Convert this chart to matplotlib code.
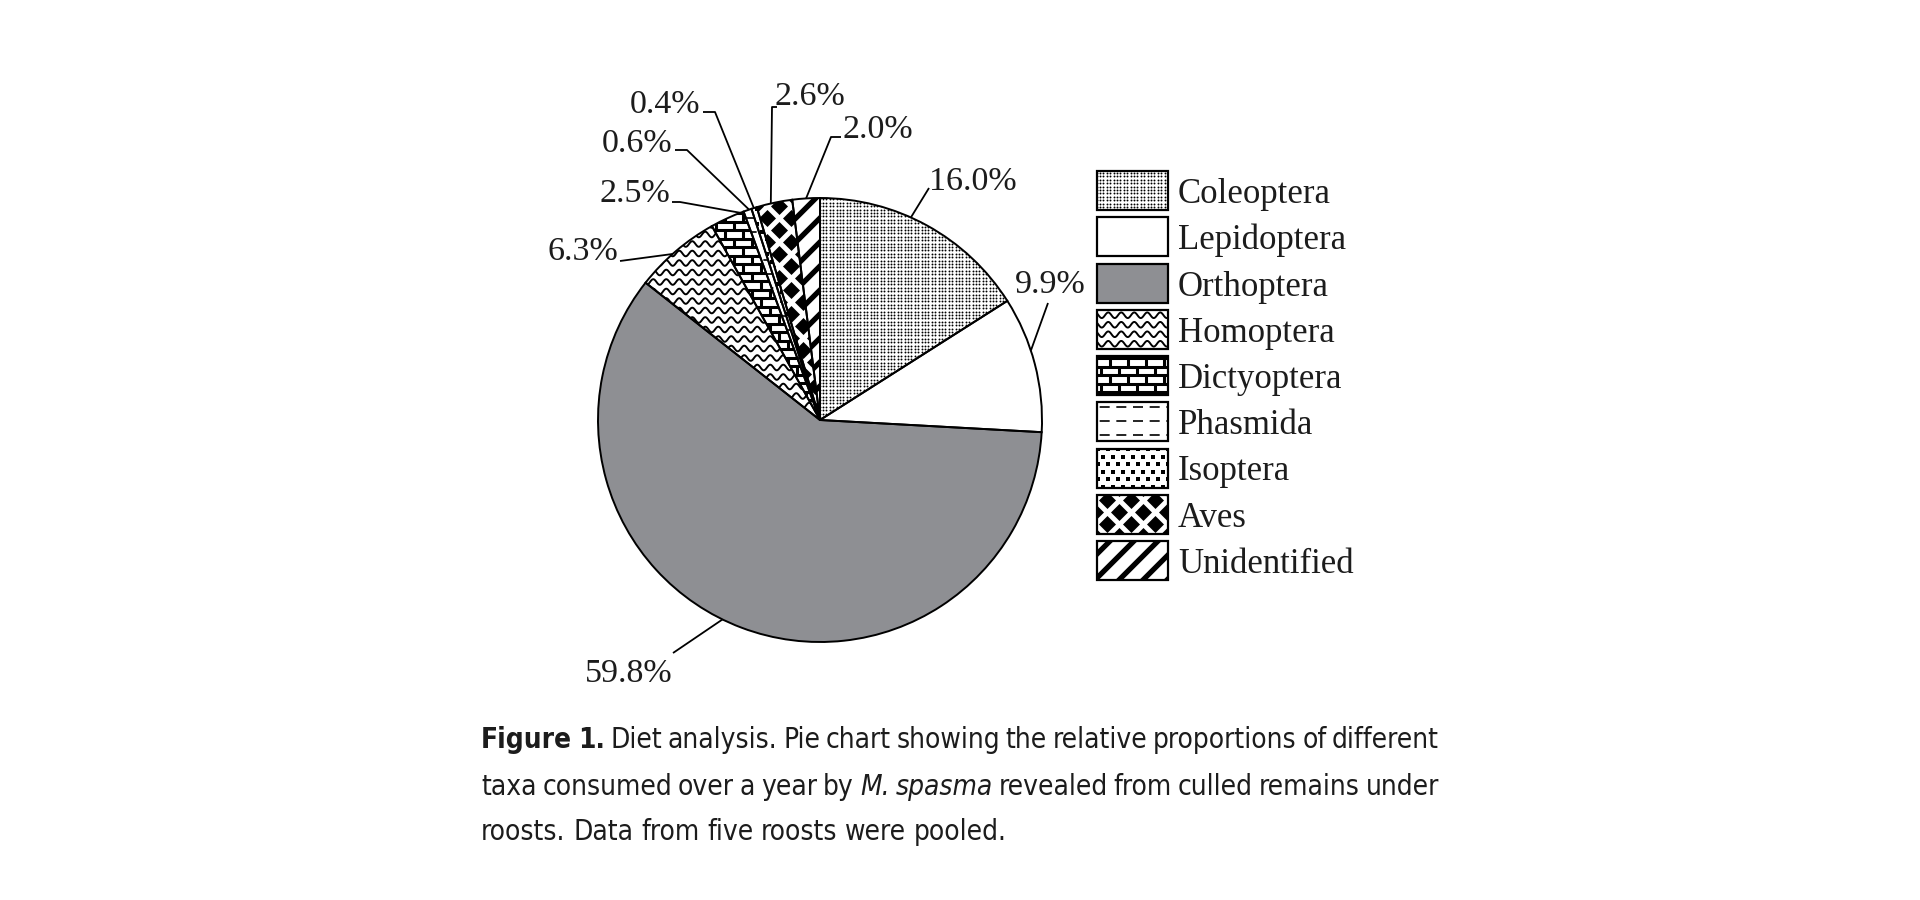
import matplotlib
matplotlib.use('Agg')
import matplotlib.pyplot as plt
import numpy as np
from matplotlib import font_manager as fm
from matplotlib.patches import Wedge, Rectangle
from matplotlib.collections import LineCollection

# data
taxa = ['Coleoptera', 'Lepidoptera', 'Orthoptera', 'Homoptera', 'Dictyoptera',
        'Phasmida', 'Isoptera', 'Aves', 'Unidentified']
share = [16.0, 9.9, 59.8, 6.3, 2.5, 0.6, 0.4, 2.6, 2.0]
fills = ['dots', 'white', 'grey', 'wave', 'brick', 'dash', 'isodots', 'diamonds', 'diag']

caption = [
    [('Figure 1.', 'bold'), ('Diet analysis. Pie chart showing the relative proportions of different', 'normal')],
    [('taxa consumed over a year by', 'normal'), ('M. spasma', 'italic'),
     ('revealed from culled remains under', 'normal')],
    [('roosts. Data from five roosts were pooled.', 'normal')],
]

W, H = 1920, 900
def Y(y):
    return H - y

# label layout: text anchor (x, baseline), ha, leader elbow points, position of leader end in wedge
label_layout = {
    'Coleoptera': ((929, 190), 'left', [(929, 188)], 0.42),
    'Lepidoptera': ((1015, 293), 'left', [(1048, 303)], 0.40),
    'Orthoptera': ((673, 682), 'right', [(673, 653)], 0.525),
    'Homoptera': ((618, 260), 'right', [(620, 261)], 0.45),
    'Dictyoptera': ((670, 202), 'right', [(672, 202), (680, 202)], 0.9),
    'Phasmida': ((672, 152), 'right', [(675, 150), (687, 150)], 0.7),
    'Isoptera': ((700, 113), 'right', [(703, 112), (715, 112)], 0.45),
    'Aves': ((775, 105), 'left', [(777, 107), (772, 107)], 0.4),
    'Unidentified': ((843, 138), 'left', [(841, 137), (831, 137)], 0.5),
}

serif = ['Liberation Serif', 'DejaVu Serif']
ink = '#1c1c1c'
grey = '#8e8f93'

fig = plt.figure(figsize=(19.2, 9), dpi=100)
ax = fig.add_axes([0, 0, 1, 1])

R = 222
C = (820, Y(420))


def hatch_fill(ax, patch, kind):
    bb = patch.get_path().get_extents(patch.get_patch_transform())
    x0, y0, x1, y1 = bb.x0 - 14, bb.y0 - 14, bb.x1 + 14, bb.y1 + 14
    arts = []
    if kind == 'dots':
        gx, gy = np.meshgrid(np.arange(x0, x1, 3.4), np.arange(y0, y1, 3.4))
        arts.append(ax.scatter(gx.ravel(), gy.ravel(), s=1.9, c='k', marker='o',
                               linewidths=0, zorder=2))
    elif kind == 'wave':
        xs = np.linspace(x0, x1, 400)
        segs = [np.column_stack([xs, yy + 2.8 * np.sin(2 * np.pi * xs / 13.0)])
                for yy in np.arange(y0, y1, 9.5)]
        arts.append(ax.add_collection(LineCollection(segs, colors='k', linewidths=1.4, zorder=2)))
    elif kind == 'brick':
        segs = []
        rows = np.arange(y0, y1, 8.5)
        for i, yy in enumerate(rows):
            segs.append([(x0, yy), (x1, yy)])
            for xx in np.arange(x0 + (i % 2) * 9, x1, 18):
                segs.append([(xx, yy), (xx, yy + 8.5)])
        arts.append(ax.add_collection(LineCollection(segs, colors='k', linewidths=2.2, zorder=2)))
    elif kind == 'dash':
        segs = [[(x0, yy), (x1, yy)] for yy in np.arange(y0 + 6, y1, 14)]
        arts.append(ax.add_collection(LineCollection(segs, colors='k', linewidths=1.2,
                                                     linestyles=(0, (6, 4)), zorder=2)))
    elif kind == 'isodots':
        pts = []
        for i, yy in enumerate(np.arange(y0, y1, 7.5)):
            for xx in np.arange(x0 + (i % 2) * 5, x1, 10):
                pts.append((xx, yy))
        pts = np.array(pts)
        arts.append(ax.scatter(pts[:, 0], pts[:, 1], s=11, c='k', marker='s',
                               linewidths=0, zorder=2))
    elif kind == 'diamonds':
        pts = []
        for i, yy in enumerate(np.arange(y0, y1, 12)):
            for xx in np.arange(x0 + (i % 2) * 12, x1, 24):
                pts.append((xx, yy))
        pts = np.array(pts)
        arts.append(ax.scatter(pts[:, 0], pts[:, 1], s=75, c='k', marker='D',
                               linewidths=0, zorder=2))
    elif kind == 'diag':
        span = (x1 - x0) + (y1 - y0)
        segs = [[(x0, y0 + c), (x0 + span, y0 + c + span)] for c in np.arange(-span, span, 24)]
        arts.append(ax.add_collection(LineCollection(segs, colors='k', linewidths=3.8, zorder=2)))
    for a in arts:
        a.set_clip_path(patch)


face = {'grey': grey}
wedges, _ = ax.pie(share, startangle=90, counterclock=False, radius=R, center=C,
                   colors=[face.get(f, 'white') for f in fills],
                   wedgeprops=dict(edgecolor='none', linewidth=0))
for w, kind in zip(wedges, fills):
    hatch_fill(ax, w, kind)
    ax.add_patch(Wedge(w.center, w.r, w.theta1, w.theta2, fill=False,
                       edgecolor='k', linewidth=1.4, zorder=3))

# percentage labels with leader lines
for w, name, v in zip(wedges, taxa, share):
    (tx, ty), ha, elbow, frac = label_layout[name]
    ang = np.deg2rad(w.theta2 - frac * (w.theta2 - w.theta1))
    end = (C[0] + R * np.cos(ang), C[1] + R * np.sin(ang))
    pts = [(x, Y(y)) for x, y in elbow] + [end]
    ax.plot([p[0] for p in pts], [p[1] for p in pts], color='k', lw=1.3, zorder=4,
            solid_capstyle='butt')
    ax.text(tx, Y(ty), f'{v:.1f}%', ha=ha, va='baseline', fontsize=24.5,
            family=serif, color=ink, zorder=5)

# legend drawn as boxes with the same fills
lx, ltop, lw_, lh, pitch = 1097, 171, 71, 39, 46.25
for i, (name, kind) in enumerate(zip(taxa, fills)):
    top = ltop + i * pitch
    box = Rectangle((lx, Y(top + lh)), lw_, lh, facecolor=face.get(kind, 'white'),
                    edgecolor='none', zorder=1)
    ax.add_patch(box)
    hatch_fill(ax, box, kind)
    ax.add_patch(Rectangle((lx, Y(top + lh)), lw_, lh, fill=False, edgecolor='k',
                           linewidth=1.6, zorder=3))
    ax.text(1178, Y(top + 32), name, ha='left', va='baseline', fontsize=25,
            family=serif, color=ink)

ax.set_xlim(0, W)
ax.set_ylim(0, H)
ax.axis('off')

# caption font: a condensed sans if one is installed
cap_font, cap_stretch = ['Liberation Sans', 'DejaVu Sans'], 'normal'
for f in fm.fontManager.ttflist:
    nm = f.name
    if 'Mono' in nm or 'Serif' in nm:
        continue
    if 'Narrow' in nm or 'Condensed' in nm or f.stretch in ('condensed', 'semi-condensed'):
        cap_font, cap_stretch = [nm, 'DejaVu Sans'], f.stretch
        break

renderer = fig.canvas.get_renderer()
styles = {'normal': dict(weight='normal', style='normal'),
          'bold': dict(weight='bold', style='normal'),
          'italic': dict(weight='normal', style='italic')}


def words_of(line):
    out = []
    for txt, st in line:
        out += [(w, st) for w in txt.split()]
    return out


def measure(words, fs):
    ws = []
    for w, st in words:
        t = ax.text(0, 0, w, fontsize=fs, family=cap_font, stretch=cap_stretch, **styles[st])
        ws.append(t.get_window_extent(renderer=renderer).width)
        t.remove()
    return ws


cap_left = 481
cap_widths = [1439 - cap_left, 1439 - cap_left, 1007 - cap_left]
cap_base = [748, 795, 840]
fs0 = 20
w1 = words_of(caption[0])
nat = sum(measure(w1, fs0)) + (len(w1) - 1) * 0.2 * fs0 * 100 / 72
fs = min(24.5, fs0 * cap_widths[0] / nat)
for line, width, base in zip(caption, cap_widths, cap_base):
    words = words_of(line)
    ws = measure(words, fs)
    gap = (width - sum(ws)) / (len(words) - 1)
    x = cap_left
    for (w, st), wd in zip(words, ws):
        ax.text(x, Y(base), w, fontsize=fs, family=cap_font, stretch=cap_stretch,
                color=ink, ha='left', va='baseline', **styles[st])
        x += wd + gap

fig.savefig('out.png', dpi=100, facecolor='white')
